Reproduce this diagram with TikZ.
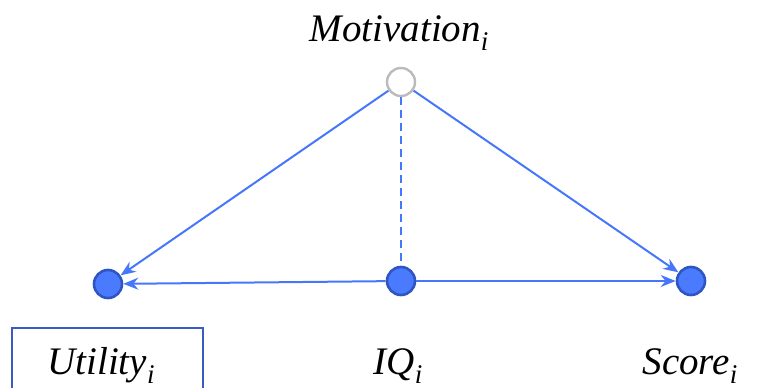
\documentclass[tikz,border=0pt]{standalone}
\usepackage{fontspec}
\setmainfont{Liberation Serif}
\usetikzlibrary{arrows.meta}
\definecolor{lineblue}{HTML}{4677FA}
\definecolor{dotfill}{HTML}{4A7BFF}
\definecolor{dotedge}{HTML}{2F55C4}
\definecolor{boxblue}{HTML}{3A5CC0}
\definecolor{ringgray}{HTML}{BBBBBB}
\newcommand\lowidx[1]{\raisebox{-0.22em}{\fontsize{27}{30}\selectfont #1}}
\begin{document}
\begin{tikzpicture}[x=1pt,y=1pt,
  dotnode/.style={circle,fill=dotfill,draw=dotedge,line width=2.6pt,minimum size=28pt,inner sep=0pt},
  ringnode/.style={circle,fill=white,draw=ringgray,line width=2.4pt,minimum size=28pt,inner sep=0pt},
  conn/.style={lineblue,line width=2pt,-{Stealth[length=15pt,width=12pt]}},
  lbl/.style={font=\fontsize{39}{44}\selectfont\itshape,inner sep=0pt,anchor=base}]
\useasboundingbox (0,0) rectangle (760,388);
\node[ringnode] (m) at (401,306) {};
\node[dotnode] (u) at (108,104) {};
\node[dotnode] (q) at (401,107) {};
\node[dotnode] (s) at (691,107) {};
\node[lbl] (tm) at (399,346) {Motivation\lowidx{i}};
\node[lbl] (tu) at (101,13) {Utility\lowidx{i}};
\node[lbl] (tq) at (398,13) {IQ\lowidx{i}};
\node[lbl] (ts) at (690,13) {Score\lowidx{i}};
\node[draw=boxblue,line width=2.4pt,minimum width=191pt,minimum height=70pt,inner sep=0pt] (box) at (107.5,25) {};
\draw[conn] (m) -- (u);
\draw[conn] (m) -- (s);
\draw[conn] (q) -- (u);
\draw[conn] (q) -- (s);
\draw[lineblue,line width=2pt,dash pattern=on 8pt off 5pt] (m) -- (q);
\end{tikzpicture}
\end{document}
